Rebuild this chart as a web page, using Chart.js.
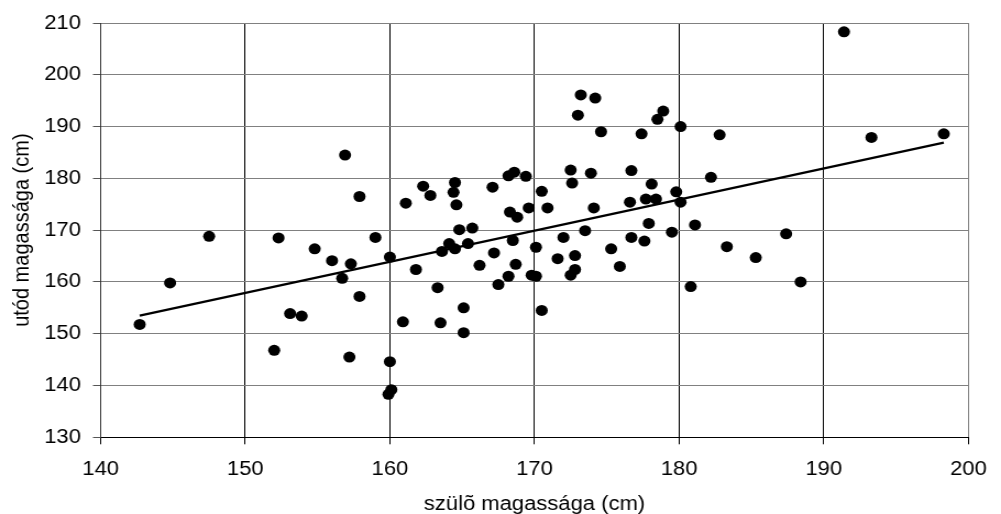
<!DOCTYPE html>
<html>
<head>
<meta charset="utf-8">
<script src="https://cdn.jsdelivr.net/npm/chart.js@4/dist/chart.umd.min.js"></script>
<style>
  html, body { margin: 0; padding: 0; background: #fff; overflow: hidden; }
  #wrap { width: 1001px; height: 514px; }
  #c { display: block; transform: scaleX(1.1); transform-origin: 0 0; }
</style>
</head>
<body>
<div id="wrap"><canvas id="c" width="910" height="514"></canvas></div>
<script>
// Parent height (x) and offspring height (y)
const parentHeights = [
  142.7, 144.8, 147.5, 152.3, 152.0, 153.1, 153.9, 154.8, 156.0, 156.9,
  156.7, 157.3, 157.2, 157.9, 157.9, 159.0, 160.0, 160.0, 160.1, 159.9,
  161.1, 161.8, 160.9, 162.3, 162.8, 163.3, 163.5, 163.6, 164.1, 164.5,
  164.5, 164.4, 164.6, 164.8, 165.4, 165.7, 165.1, 165.1, 166.2, 167.1,
  167.2, 167.5, 168.2, 168.2, 168.6, 168.3, 168.8, 168.5, 168.7, 169.4,
  169.6, 169.8, 170.1, 170.1, 170.5, 170.9, 170.5, 172.0, 171.6, 172.5,
  172.6, 172.8, 172.8, 172.5, 173.2, 173.0, 174.2, 174.6, 173.9, 173.5,
  174.1, 175.3, 175.9, 176.7, 176.6, 176.7, 177.4, 177.6, 177.9, 177.7,
  178.1, 178.4, 178.5, 178.9, 180.1, 182.8, 182.2, 179.8, 180.1, 179.5,
  181.1, 180.8, 183.3, 185.3, 187.4, 188.4, 191.4, 193.3, 198.3
];
const childHeights = [
  151.8, 159.8, 168.8, 168.5, 146.8, 153.9, 153.4, 166.4, 164.1, 184.5,
  160.7, 163.5, 145.5, 176.5, 157.2, 168.6, 164.8, 144.6, 139.2, 138.3,
  175.2, 162.4, 152.3, 178.5, 176.7, 158.9, 152.1, 165.9, 167.4, 166.4,
  179.2, 177.3, 174.9, 170.1, 167.4, 170.4, 155.0, 150.2, 163.2, 178.3,
  165.6, 159.5, 161.1, 180.5, 181.2, 173.5, 172.5, 168.0, 163.4, 180.4,
  174.3, 161.3, 161.1, 166.7, 177.5, 174.3, 154.5, 168.6, 164.5, 181.6,
  179.1, 165.1, 162.4, 161.3, 196.1, 192.2, 195.5, 189.0, 181.0, 169.9,
  174.3, 166.4, 163.0, 181.5, 175.4, 168.6, 188.6, 167.9, 171.3, 176.0,
  178.9, 176.0, 191.4, 193.0, 190.0, 188.4, 180.2, 177.4, 175.4, 169.6,
  171.0, 159.1, 166.8, 164.7, 169.3, 160.0, 208.3, 187.9, 188.6
];
// Trend line end points
const trendX = [142.7, 198.3];
const trendY = [153.5, 186.9];
// Axis settings
const xTicks = [140, 150, 160, 170, 180, 190, 200];
const yTicks = [130, 140, 150, 160, 170, 180, 190, 200, 210];
const xTitle = 'szülõ magassága (cm)';
const yTitle = 'utód magassága (cm)';

const FONT = 'Liberation Sans, Arial, Helvetica, sans-serif';

const scatterData = parentHeights.map((x, i) => ({ x: x, y: childHeights[i] }));
const trendData = trendX.map((x, i) => ({ x: x, y: trendY[i] }));

new Chart(document.getElementById('c'), {
  type: 'scatter',
  data: {
    datasets: [
      {
        type: 'line',
        data: trendData,
        borderColor: '#000',
        borderWidth: 2.2,
        pointRadius: 0,
        fill: false,
        tension: 0,
        order: 0
      },
      {
        data: scatterData,
        backgroundColor: '#000',
        borderColor: '#000',
        borderWidth: 0,
        pointRadius: 5.5,
        pointHoverRadius: 5.5,
        order: 1
      }
    ]
  },
  options: {
    responsive: false,
    animation: false,
    events: [],
    layout: { padding: { top: 22, right: 17.3, left: 0, bottom: 0 } },
    plugins: { legend: { display: false }, tooltip: { enabled: false } },
    scales: {
      x: {
        type: 'linear',
        min: xTicks[0],
        max: xTicks[xTicks.length - 1],
        afterBuildTicks: s => { s.ticks = xTicks.map(v => ({ value: v })); },
        ticks: { color: '#000', font: { family: FONT, size: 20 }, padding: 13, maxRotation: 0 },
        grid: {
          color: c => (c.tick && c.tick.value === 200) ? '#808080' : '#000',
          tickColor: '#000',
          tickLength: 7,
          lineWidth: 1
        },
        border: { color: '#000', width: 1 },
        title: {
          display: true, text: xTitle, color: '#000',
          font: { family: FONT, size: 20, lineHeight: 1 },
          padding: { top: -1, bottom: 0 }
        },
        afterFit: s => { s.height = 76.7; }
      },
      y: {
        type: 'linear',
        min: yTicks[0],
        max: yTicks[yTicks.length - 1],
        afterBuildTicks: s => { s.ticks = yTicks.map(v => ({ value: v })); },
        ticks: { color: '#000', font: { family: FONT, size: 20 }, padding: 11 },
        grid: { color: '#808080', tickColor: '#555', tickLength: 7, lineWidth: 1 },
        border: { color: '#333', width: 1 },
        title: {
          display: true, text: yTitle, color: '#000',
          font: { family: FONT, size: 20, lineHeight: 1 },
          padding: { top: 10, bottom: 0 }
        },
        afterFit: s => { s.width = 91.5; }
      }
    }
  }
});
</script>
</body>
</html>
